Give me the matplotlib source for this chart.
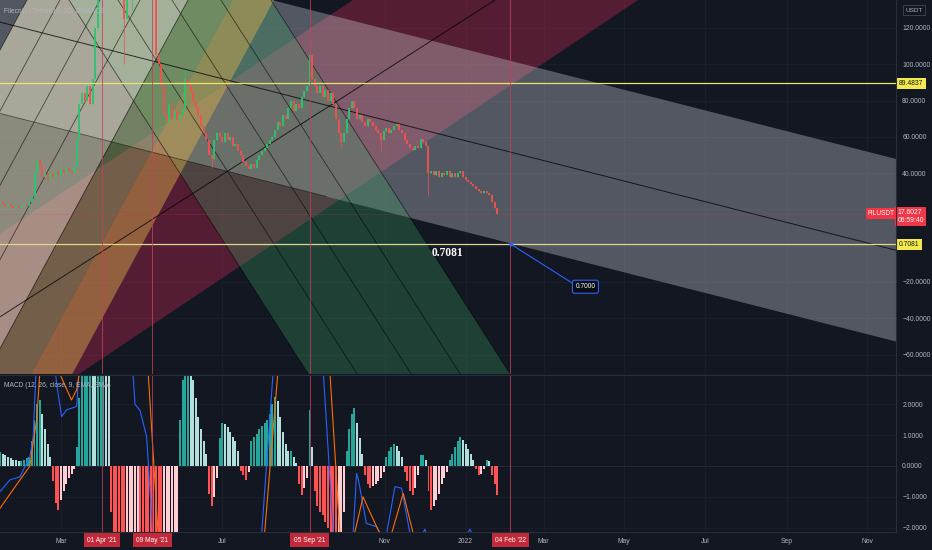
import numpy as np
import pandas as pd
import matplotlib
matplotlib.use('Agg')
import matplotlib.pyplot as plt
import matplotlib.dates as mdates
from matplotlib.ticker import FuncFormatter
from matplotlib.transforms import blended_transform_factory
from matplotlib.lines import Line2D

plt.rcParams['font.family'] = ['Liberation Sans', 'DejaVu Sans']

# ------------------------------------------------------------------ data
title = "Filecoin / TetherUS, 1D, BINANCE"
macd_title = "MACD (12, 26, close, 9, EMA, EMA)"
base_date = '2021-01-01'
candle_start = '2021-01-14'
candle_freq = '2D'
first_open = 24.0
closes = [24, 23, 22, 23, 22, 21, 22, 21, 22, 23,
          22, 24, 27, 40, 48, 44, 38, 40, 36, 40,
          38, 41, 39, 42, 40, 43, 41, 40, 44, 58,
          78, 84, 80, 88, 78, 92, 120, 150, 175, 210,
          200, 190, 170, 165, 175, 180, 160, 125, 150, 140,
          150, 160, 165, 155, 170, 180, 175, 165, 145, 105,
          100, 88, 72, 68, 78, 70, 74, 69, 72, 75,
          92, 88, 85, 80, 76, 72, 66, 62, 58, 50,
          48, 58, 62, 60, 57, 62, 58, 60, 55, 56,
          52, 50, 46, 44, 42, 45, 43, 47, 50, 52,
          54, 56, 58, 60, 64, 68, 66, 72, 70, 76,
          80, 74, 78, 76, 82, 85, 88, 105, 92, 88,
          84, 88, 82, 86, 80, 84, 78, 70, 62, 57,
          62, 70, 76, 80, 76, 70, 72, 68, 66, 70,
          68, 66, 64, 62, 58, 63, 65, 62, 64, 66,
          67, 64, 62, 58, 56, 54, 53, 55, 54, 59,
          57, 55, 40, 41, 39, 41, 38, 40, 39, 41,
          38, 40, 38, 40, 41, 38, 36, 35, 34, 33,
          31, 30, 29, 30, 29, 28, 24, 21, 17.6027]
wick_lows = {'2021-04-18': 100, '2021-04-24': 130, '2021-06-23': 43,
             '2021-09-29': 54, '2021-10-29': 52, '2021-12-04': 28}
wick_highs = {'2021-06-03': 97, '2021-09-05': 113}

hist = [0.45, 0.4, 0.35, 0.3, 0.25, 0.2, 0.18, 0.15, 0.15, 0.2, 0.25, 0.3,
        0.8, 1.5, 2.0, 2.14, 1.7, 1.2, 0.7, 0.3,
        -0.5, -1.2, -1.43, -1.1, -0.8, -0.6, -0.4, -0.25, -0.1,
        0.6, 2.2, 3.5, 4.0, 4.5, 4.5, 4.2, 4.0, 4.5, 5.0, 5.0, 4.0, 3.0,
        -1.5, -2.6, -4.0, -5.0, -6.0, -6.0, -5.0, -4.5, -4.0, -3.5, -3.0, -3.0, -3.2,
        -3.5, -3.5, -3.8, -4.0, -5.0, -6.0, -6.0, -5.5, -5.0, -4.0, -3.0, -2.5, -2.3,
        1.5, 2.8, 3.2, 3.3, 3.1, 2.8, 2.2, 1.6, 1.2, 0.8, 0.4,
        -0.9, -1.3, -1.0, -0.4,
        0.9, 1.4, 1.35, 1.25, 1.1, 0.95, 0.8, 0.5,
        -0.15, -0.3, -0.45, -0.2,
        0.8, 0.95, 1.05, 1.2, 1.3, 1.4, 1.5, 1.7, 2.0, 2.25, 2.1, 1.6, 1.1, 0.7, 0.5,
        0.5, 0.3, 0.1,
        -0.6, -0.95, -0.7, -0.4,
        1.8, 0.6,
        -0.8, -1.3, -1.5, -1.6, -1.8, -2.0, -2.3, -2.5, -2.5, -2.4, -2.3, -1.5,
        0.5, 1.2, 1.7, 1.87, 1.4, 0.9, 0.4,
        -0.3, -0.6, -0.7, -0.65, -0.6, -0.5, -0.4, -0.2,
        0.3, 0.5, 0.6, 0.7, 0.65, 0.5, 0.3,
        -0.2, -0.5, -0.8, -0.95, -0.7, -0.3,
        0.35, 0.35, 0.2,
        -0.8, -1.43, -1.3, -1.1, -0.9, -0.6, -0.4, -0.2,
        0.2, 0.4, 0.6, 0.8, 0.95, 0.85, 0.7, 0.55, 0.4, 0.2,
        -0.1, -0.3, -0.25, -0.1,
        0.2, 0.15,
        -0.3, -0.6, -0.95]

# MACD / signal lines (day offset from base_date, value)
macd_days = [12.9, 20.4, 28, 35.5, 38, 41, 50, 55.7, 59.5, 63.3, 70.9, 74, 90, 110, 113.5,
             115, 118.8, 123.8, 128.8, 135, 170, 205, 210.8, 219.4, 222, 250, 257.5, 265,
             270, 278, 280, 282.6, 284, 290, 297.8, 302, 305.3, 311.6, 316.7, 323, 330,
             334.3, 338, 365, 368.4, 372, 389]
macd_vals = [-0.83, -0.45, -0.35, 0.3, 0.95, 4.0, 5.0, 2.68, 1.6, 1.82, 1.93, 4.0, 8.0, 4.0, 3.0,
             2.0, 1.8, 0.95, -2.5, -5.0, -4.0, -3.0, -2.2, 3.0, 4.0, 4.0, 3.0, -2.2,
             -4.0, -3.0, -2.2, -0.24, -0.45, -1.86, -1.97, -2.3, -2.2, -0.67, -0.72, -2.2, -2.4,
             -2.05, -2.5, -2.3, -2.05, -2.4, -2.8]
signal_days = [12.9, 28, 35.5, 40.6, 43, 50, 58, 67, 70.9, 73, 90, 120, 125, 132.5, 140, 200,
               213, 223, 230, 255, 262.5, 270, 275, 281, 287.5, 292, 297.8, 300.3, 305, 309,
               317.9, 325.5, 335, 389]
signal_vals = [-1.37, -0.45, 0.0, 1.5, 3.0, 4.5, 3.0, 2.14, 2.47, 3.0, 6.0, 5.0, 3.0, -2.2, -4.0, -4.0,
               -2.2, 3.0, 4.0, 4.0, 3.0, -2.2, -3.0, -2.2, -1.0, -1.43, -1.97, -2.2, -2.6, -2.2,
               -0.89, -2.2, -2.6, -2.8]

# horizontal levels, markers, labels
level_hi = 89.4837
level_lo = 0.7081
last_price = 17.6027
countdown = "06:59:40"
symbol = "FILUSDT"
marker_dates = ['2021-04-01', '2021-05-09', '2021-09-05', '2022-02-04']
marker_labels = ["01 Apr '21", "09 May '21", "05 Sep '21", "04 Feb '22"]
month_dates = ['2021-03-01', '2021-07-01', '2021-11-01', '2022-01-01', '2022-03-01',
               '2022-05-01', '2022-07-01', '2022-09-01', '2022-11-01']
month_labels = ['Mar', 'Jul', 'Nov', '2022', 'Mar', 'May', 'Jul', 'Sep', 'Nov']
price_ticks = [-60, -40, -20, 0, 20, 40, 60, 80, 100, 120]
hidden_price_ticks = [0, 20]          # covered by the price labels
macd_ticks = [-2, -1, 0, 1, 2]
target_label = "0.7000"

# drawing anchors (day offset, price)
chan_mid = [(12.9, 123.2), (690.6, -2.5)]
chan_half = 50.3
red_upper = [(12.9, 6.6), (279.9, 135.4)]
red_median = [(12.9, -39.2), (387.3, 135.4)]
red_lower = [(70.3, -71.8), (495.5, 135.4)]
steep_ref_price = 135.4
steep_slope = 1.351
steep_days = [33.3, 58.2, 88.5, 118.8, 155.1, 189.1, 220.1]
fall_slope = -1.139
fall_days = [65.1, 102.1, 142.96, 180.0, 217.85]
target_from = (399.6, 0.7081)
target_to = (445.5, -20.5)
target_box = (455.7, -22.6)
level_text_pos = (351.7, -4.1)

# ------------------------------------------------------------------ setup
BG = '#131722'
TXT = '#b2b5be'
W, H = 932, 550
base = mdates.date2num(pd.Timestamp(base_date))

fig = plt.figure(figsize=(W / 100, H / 100), dpi=100, facecolor=BG)
ax = fig.add_axes([0, 1 - 374 / H, 896 / W, 374 / H])
ax2 = fig.add_axes([0, 1 - 532 / H, 896 / W, (532 - 375) / H])
for a in (ax, ax2):
    a.set_facecolor(BG)
    for s in a.spines.values():
        s.set_visible(False)
    a.set_xlim(base + 12.9, base + 690.6)

ax.set_ylim(-70.7, 135.4)
ax2.set_ylim(-2.14, 2.95)

def line_through(p0, p1, d):
    (x0, y0), (x1, y1) = p0, p1
    return y0 + (y1 - y0) * (d - x0) / (x1 - x0)

days = np.arange(-300, 900, 0.25)
X = base + days

# grid
month_nums = [mdates.date2num(pd.Timestamp(m)) for m in month_dates]
for a, ticks in ((ax, price_ticks), (ax2, macd_ticks)):
    for t in ticks:
        a.axhline(t, color='#1c202c', lw=0.6, zorder=0.2)
    for m in month_nums:
        a.axvline(m, color='#1c202c', lw=0.6, zorder=0.2)

# ------------------------------------------------------------------ drawings
# red ascending channel
ax.fill_between(X, line_through(*red_lower, days), line_through(*red_upper, days),
                color='#cc2a52', alpha=0.36, lw=0, zorder=1.0)
# grey descending channel
mid = line_through(*chan_mid, days)
ax.fill_between(X, mid - chan_half, mid + chan_half, color='#d1d4dc', alpha=0.34, lw=0, zorder=1.1)

def steep(t, d):
    return steep_ref_price + steep_slope * (d - t)

def fall(t, d):
    return steep_ref_price + fall_slope * (d - t)

fd = fall_days
ax.fill_between(X, fall(fd[0], days), fall(fd[-1], days), color='#3ca064', alpha=0.30, lw=0, zorder=1.2)
sd = steep_days
ax.fill_between(X, steep(sd[4], days), steep(sd[0], days), color='#ebe6c6', alpha=0.56, lw=0, zorder=1.3)
ax.fill_between(X, steep(sd[5], days), steep(sd[4], days), color='#98b064', alpha=0.45, lw=0, zorder=1.3)
ax.fill_between(X, steep(sd[6], days), steep(sd[5], days), color='#dcb04c', alpha=0.46, lw=0, zorder=1.3)

# drawing lines
lk = dict(color='#000000', alpha=0.75, lw=0.7, zorder=1.5)
ax.plot(X, mid, **lk)
seg = days < 260
ax.plot(X[seg], (mid - chan_half)[seg], color='#000000', alpha=0.5, lw=0.6, zorder=1.5)
ax.plot(X, line_through(*red_median, days), **lk)
for t in sd[:5]:
    ax.plot(X, steep(t, days), color='#000000', alpha=0.6, lw=0.6, zorder=1.5)
for t in fd:
    ax.plot(X, fall(t, days), color='#000000', alpha=0.6, lw=0.6, zorder=1.5)

# ------------------------------------------------------------------ candles
cdates = pd.date_range(candle_start, periods=len(closes), freq=candle_freq)
cx = mdates.date2num(cdates)
c = np.array(closes, float)
o = np.r_[first_open, c[:-1]]
lo = np.minimum(o, c)
hi = np.maximum(o, c)
wl = lo.copy()
wh = hi.copy()
for k, v in wick_lows.items():
    i = cdates.get_loc(pd.Timestamp(k))
    wl[i] = min(wl[i], v)
for k, v in wick_highs.items():
    i = cdates.get_loc(pd.Timestamp(k))
    wh[i] = max(wh[i], v)
up = c >= o
ccol = np.where(up, '#2bc46e', '#f0524f')
ax.vlines(cx, wl, wh, colors=ccol, lw=0.5, zorder=2.0)
ax.vlines(cx, lo, np.maximum(hi, lo + 0.6), colors=ccol, lw=1.3, zorder=2.05)

# horizontal levels and price line
ax.axhline(level_hi, color='#e9e36c', lw=0.9, zorder=2.5)
ax.axhline(level_lo, color='#dcd98e', lw=0.9, zorder=2.5)
ax.axhline(last_price, color='#f23645', lw=0.5, alpha=0.45, ls=(0, (1, 1)), zorder=2.4)

# vertical markers
for md in marker_dates:
    mx = mdates.date2num(pd.Timestamp(md))
    ax.axvline(mx, color='#c2405a', lw=0.7, alpha=0.8, zorder=2.6)
    ax2.axvline(mx, color='#c2405a', lw=0.7, alpha=0.8, zorder=2.6)

# target line
ax.plot([base + target_from[0], base + target_to[0]], [target_from[1], target_to[1]],
        color='#2962ff', lw=0.8, zorder=3)
ax.plot([base + target_from[0]], [target_from[1]], 'o', ms=2, color='#2962ff', zorder=3)
ax.text(base + target_box[0], target_box[1], target_label, color='white', fontsize=4.8,
        ha='center', va='center', zorder=4,
        bbox=dict(boxstyle='round,pad=0.45,rounding_size=0.3', fc='#0b0d14', ec='#2962ff', lw=0.8))
ax.text(base + level_text_pos[0], level_text_pos[1], f"{level_lo:.4f}", color='white',
        fontsize=8.3, fontweight='bold', family=['Liberation Serif', 'DejaVu Serif'],
        ha='center', va='center', zorder=4)

# ------------------------------------------------------------------ MACD pane
h = np.array(hist, float)
prev = np.r_[h[0], h[:-1]]
hcol = np.where(h >= 0, np.where(h >= prev, '#26a69a', '#b2dfdb'),
                np.where(h > prev, '#ffcdd2', '#ff5252'))
ax2.bar(cx, h, width=1.5, color=hcol, lw=0, zorder=1)
ax2.axhline(0, color='#2a2e39', lw=0.5, zorder=0.5)
ax2.plot(base + np.array(macd_days), macd_vals, color='#2962ff', lw=0.8, zorder=2)
ax2.plot(base + np.array(signal_days), signal_vals, color='#ff6d00', lw=0.8, zorder=2)

# ------------------------------------------------------------------ axes / labels
def fmt_price(v, p):
    if any(abs(v - t) < 1e-9 for t in hidden_price_ticks):
        return ''
    return f"{v:.4f}".replace('-', '\u2212')

ax.yaxis.tick_right()
ax.set_yticks(price_ticks)
ax.yaxis.set_major_formatter(FuncFormatter(fmt_price))
ax2.yaxis.tick_right()
ax2.set_yticks(macd_ticks)
ax2.yaxis.set_major_formatter(FuncFormatter(lambda v, p: f"{v:.4f}".replace('-', '\u2212')))
for a in (ax, ax2):
    a.tick_params(axis='y', length=0, pad=4.5, labelsize=4.9, labelcolor=TXT)
ax.set_xticks([])
ax2.set_xticks(month_nums)
ax2.set_xticklabels(month_labels)
ax2.tick_params(axis='x', length=0, pad=4.2, labelsize=4.9, labelcolor=TXT)

ax.text(0.004, 0.972, title, transform=ax.transAxes, fontsize=4.8, color=TXT, va='center', zorder=5)
ax2.text(0.004, 0.93, macd_title, transform=ax2.transAxes, fontsize=4.8, color=TXT, va='center', zorder=5)

tr = blended_transform_factory(ax.transAxes, ax.transData)
box = dict(boxstyle='square,pad=0.3', ec='none')
ax.text(1.0035, level_hi, f"{level_hi:.4f}", transform=tr, fontsize=4.9, color='#131722',
        ha='left', va='center', clip_on=False, zorder=10, bbox=dict(box, fc='#f5ea4d'))
ax.text(1.0035, level_lo, f"{level_lo:.4f}", transform=tr, fontsize=4.9, color='#131722',
        ha='left', va='center', clip_on=False, zorder=10, bbox=dict(box, fc='#f5ea4d'))
ax.text(1.0015, last_price + 2.6, f"{last_price:.4f}\n{countdown}", transform=tr, fontsize=4.9,
        color='white', ha='left', va='top', linespacing=1.15, clip_on=False, zorder=10,
        bbox=dict(boxstyle='square,pad=0.35', fc='#f23645', ec='none'))
ax.text(0.9985, last_price, symbol, transform=tr, fontsize=4.7, color='white', ha='right',
        va='center', clip_on=False, zorder=10, bbox=dict(box, fc='#f23645'))
fig.text(914 / W, 1 - 10 / H, "USDT", fontsize=4.6, color=TXT, ha='center', va='center',
         bbox=dict(boxstyle='square,pad=0.35', fc=BG, ec='#434651', lw=0.6))

trx = blended_transform_factory(ax2.transData, ax2.transAxes)
for md, lab in zip(marker_dates, marker_labels):
    mx = mdates.date2num(pd.Timestamp(md))
    ax2.text(mx, -0.052, lab, transform=trx, fontsize=4.8, color='white', ha='center', va='center',
             clip_on=False, zorder=10,
             bbox=dict(boxstyle='square,pad=0.5', fc='#c22a3a', ec='none'))

# separators
for (x0, x1, y0, y1) in [(896, 896, 0, 532), (0, 932, 374.5, 374.5), (0, 896, 532, 532)]:
    fig.add_artist(Line2D([x0 / W, x1 / W], [1 - y0 / H, 1 - y1 / H], transform=fig.transFigure,
                          color='#2a2e39', lw=0.8))

fig.savefig('out.png', dpi=100, facecolor=BG)
